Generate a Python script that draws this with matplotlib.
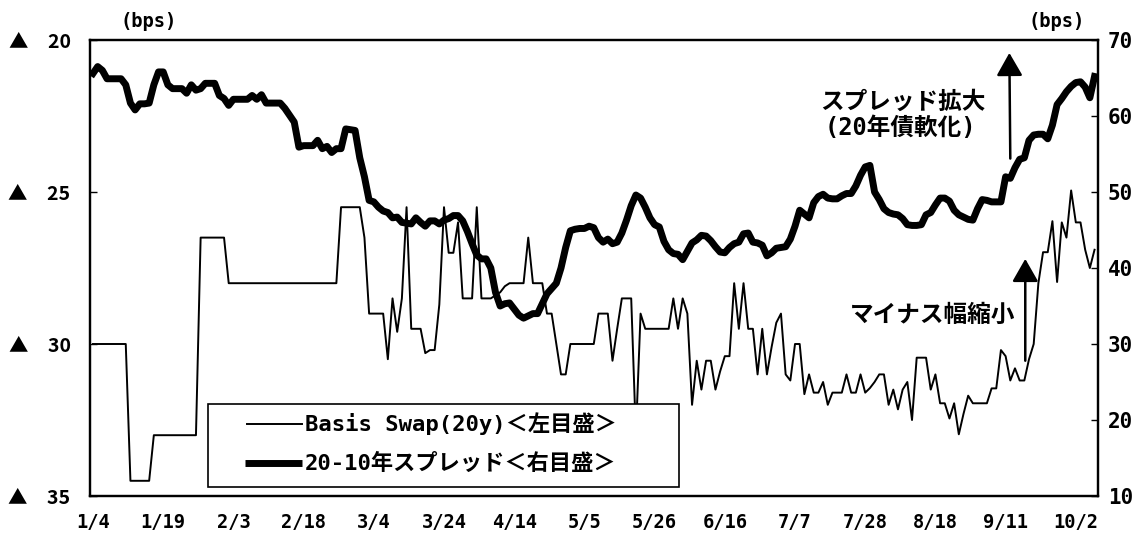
import numpy as np
import matplotlib
matplotlib.use('Agg')
from matplotlib import pyplot as plt
from matplotlib.patches import Rectangle
from matplotlib.lines import Line2D

plt.rcParams['font.family'] = ['DejaVu Sans Mono', 'Noto Sans CJK JP']
plt.rcParams['font.weight'] = 'bold'

# 営業日ベースの目盛（15営業日ごと）
tick_labels = ['1/4', '1/19', '2/3', '2/18', '3/4', '3/24', '4/14', '5/5',
               '5/26', '6/16', '7/7', '7/28', '8/18', '9/11', '10/2']
tick_step = 15

# Basis Swap(20y) (bps, マイナス値) <左目盛>
basis_swap = [
    -30.0, -30.0, -30.0, -30.0, -30.0, -30.0, -30.0, -30.0, -34.5, -34.5,
    -34.5, -34.5, -34.5, -33.0, -33.0, -33.0, -33.0, -33.0, -33.0, -33.0,
    -33.0, -33.0, -33.0, -26.5, -26.5, -26.5, -26.5, -26.5, -26.5, -28.0,
    -28.0, -28.0, -28.0, -28.0, -28.0, -28.0, -28.0, -28.0, -28.0, -28.0,
    -28.0, -28.0, -28.0, -28.0, -28.0, -28.0, -28.0, -28.0, -28.0, -28.0,
    -28.0, -28.0, -28.0, -25.5, -25.5, -25.5, -25.5, -25.5, -26.5, -29.0,
    -29.0, -29.0, -29.0, -30.5, -28.5, -29.6, -28.5, -25.5, -29.5, -29.5,
    -29.5, -30.3, -30.2, -30.2, -28.7, -25.5, -27.0, -27.0, -26.0, -28.5,
    -28.5, -28.5, -25.5, -28.5, -28.5, -28.5, -28.4, -28.3, -28.1, -28.0,
    -28.0, -28.0, -28.0, -26.5, -28.0, -28.0, -28.0, -29.0, -29.0, -30.0,
    -31.0, -31.0, -30.0, -30.0, -30.0, -30.0, -30.0, -30.0, -29.0, -29.0,
    -29.0, -30.55, -29.5, -28.5, -28.5, -28.5, -33.0, -29.0, -29.5, -29.5,
    -29.5, -29.5, -29.5, -29.5, -28.5, -29.5, -28.5, -29.0, -32.0, -30.55,
    -31.5, -30.55, -30.55, -31.5, -30.9, -30.4, -30.4, -28.0, -29.5, -28.0,
    -29.5, -29.5, -31.0, -29.5, -31.0, -30.1, -29.3, -29.0, -31.0, -31.2,
    -30.0, -30.0, -31.65, -31.0, -31.6, -31.6, -31.25, -32.0, -31.6, -31.6,
    -31.6, -31.0, -31.6, -31.6, -31.0, -31.6, -31.45, -31.25, -31.0, -31.0,
    -32.0, -31.5, -32.15, -31.5, -31.25, -32.5, -30.45, -30.45, -30.45, -31.5,
    -31.0, -31.95, -31.95, -32.45, -31.95, -32.97, -32.3, -31.7, -31.95, -31.95,
    -31.95, -31.95, -31.46, -31.46, -30.2, -30.4, -31.2, -30.8, -31.2, -31.2,
    -30.5, -30.0, -28.0, -26.98, -26.98, -25.96, -27.96, -26.0, -26.5, -24.95,
    -26.0, -26.0, -26.9, -27.5, -26.9,
]

# 20-10年スプレッド (bps) <右目盛>
spread_20_10 = [
    65.6, 66.5, 66.0, 64.9, 64.9, 64.9, 64.9, 64.1, 61.7, 60.8,
    61.6, 61.6, 61.7, 64.1, 65.8, 65.8, 64.1, 63.6, 63.6, 63.6,
    63.0, 64.1, 63.4, 63.6, 64.3, 64.3, 64.3, 62.7, 62.3, 61.4,
    62.2, 62.2, 62.2, 62.2, 62.7, 62.2, 62.8, 61.7, 61.7, 61.7,
    61.7, 61.0, 60.1, 59.2, 55.9, 56.1, 56.1, 56.1, 56.8, 55.7,
    56.0, 55.2, 55.7, 55.7, 58.3, 58.2, 58.1, 54.5, 52.0, 48.9,
    48.7, 48.0, 47.5, 47.3, 46.6, 46.7, 46.0, 45.9, 45.8, 46.6,
    46.0, 45.5, 46.2, 46.2, 45.8, 46.3, 46.5, 46.9, 46.9, 46.2,
    44.8, 43.2, 41.7, 41.2, 41.2, 40.0, 36.8, 35.0, 35.3, 35.4,
    34.6, 33.8, 33.4, 33.7, 34.0, 34.0, 35.3, 36.6, 37.3, 38.0,
    40.0, 42.7, 44.9, 45.1, 45.2, 45.2, 45.5, 45.3, 44.0, 43.4,
    43.8, 43.2, 43.4, 44.6, 46.3, 48.2, 49.6, 49.2, 48.0, 46.6,
    45.7, 45.4, 43.5, 42.4, 41.9, 41.8, 41.1, 42.2, 43.3, 43.7,
    44.3, 44.2, 43.6, 42.8, 42.1, 42.0, 42.7, 43.2, 43.4, 44.5,
    44.6, 43.4, 43.3, 43.0, 41.6, 42.0, 42.6, 42.7, 42.8, 43.8,
    45.5, 47.6, 47.1, 46.6, 48.6, 49.4, 49.7, 49.2, 49.1, 49.1,
    49.5, 49.8, 49.8, 50.8, 52.2, 53.3, 53.5, 50.0, 49.0, 47.8,
    47.3, 47.1, 47.0, 46.5, 45.7, 45.6, 45.6, 45.7, 47.0, 47.3,
    48.3, 49.2, 49.2, 48.8, 47.6, 47.0, 46.7, 46.4, 46.3, 47.8,
    49.0, 48.9, 48.7, 48.7, 48.7, 52.0, 51.8, 53.2, 54.3, 54.5,
    56.8, 57.5, 57.6, 57.6, 57.0, 58.8, 61.5, 62.3, 63.2, 63.9,
    64.4, 64.5, 63.8, 62.4, 65.2,
]

swap_label = 'Basis Swap(20y)＜左目盛＞'
spread_label = '20-10年スプレッド＜右目盛＞'
left_ticks = [-35, -30, -25, -20]
right_ticks = [10, 20, 30, 40, 50, 60, 70]

days = np.arange(len(spread_20_10))

fig = plt.figure(figsize=(11.45, 5.36), dpi=100)
ax = fig.add_axes([90 / 1145, 40 / 536, 1008 / 1145, 456 / 536])

# 左目盛: Basis Swap
ax.plot(days, basis_swap, color='black', lw=1.4)
ax.set_ylim(-35, -20)
ax.set_yticks(left_ticks)
ax.set_yticklabels([f'▲\u3000{abs(v)}' for v in left_ticks])
for lab in ax.get_yticklabels():
    lab.set_family(['Noto Sans CJK JP', 'DejaVu Sans'])
ax.set_xlim(-0.64, 214.74)
ax.set_xticks(np.arange(len(tick_labels)) * tick_step)
ax.set_xticklabels(tick_labels)
ax.tick_params(axis='x', length=0, pad=12, labelsize=13.5)
ax.tick_params(axis='y', direction='in', length=5, width=1, pad=14, labelsize=14)

# 右目盛: 20-10年スプレッド
ax2 = ax.twinx()
ax2.plot(days, spread_20_10, color='black', lw=5, solid_joinstyle='round')
ax2.set_ylim(10, 70)
ax2.set_yticks(right_ticks)
ax2.tick_params(axis='y', direction='in', length=5, width=1, pad=7, labelsize=15)

for a in (ax, ax2):
    for sp in a.spines.values():
        sp.set_linewidth(1.6)

# 凡例（手描きの枠）
ax2.add_patch(Rectangle((0.1171, 0.0197), 0.4672, 0.1821, transform=ax2.transAxes,
                        facecolor='white', edgecolor='black', lw=1.2, zorder=10))
ax2.add_line(Line2D([0.1558, 0.2103], [0.1579, 0.1579], transform=ax2.transAxes,
                    color='black', lw=1.4, zorder=11))
ax2.add_line(Line2D([0.1538, 0.2103], [0.0724, 0.0724], transform=ax2.transAxes,
                    color='black', lw=5, solid_capstyle='butt', zorder=11))
ax2.text(0.2133, 0.1579, swap_label, transform=ax2.transAxes, ha='left', va='center',
         fontsize=16, zorder=11)
ax2.text(0.2133, 0.0724, spread_label, transform=ax2.transAxes, ha='left', va='center',
         fontsize=16, zorder=11)

# 注記
ax2.text(0.8065, 0.864, 'スプレッド拡大', transform=ax2.transAxes, ha='center',
         va='center', fontsize=17)
ax2.text(0.8036, 0.807, '(20年債軟化)', transform=ax2.transAxes, ha='center',
         va='center', fontsize=17)
ax2.text(0.8363, 0.397, 'マイナス幅縮小', transform=ax2.transAxes, ha='center',
         va='center', fontsize=17)

arrow = dict(arrowstyle='-|>,head_length=0.7,head_width=0.4', mutation_scale=20,
             lw=1.8, color='black', shrinkA=0, shrinkB=0)
ax2.annotate('', xy=(195.8, 68.3), xytext=(196.0, 54.4), arrowprops=arrow)
ax.annotate('', xy=(199.2, -27.2), xytext=(199.2, -30.55), arrowprops=arrow)

fig.text(0.130, 0.959, '(bps)', ha='center', va='center', fontsize=13.5)
fig.text(0.923, 0.959, '(bps)', ha='center', va='center', fontsize=13.5)

plt.savefig('out.png', dpi=100)
plt.close()
